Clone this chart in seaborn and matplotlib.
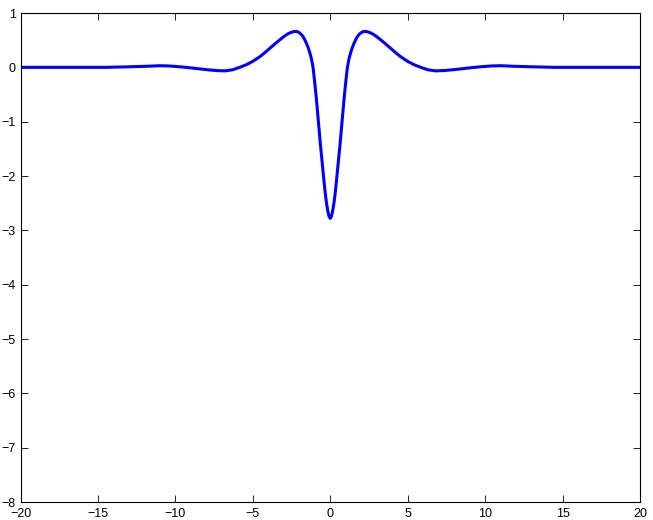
import matplotlib
matplotlib.use("Agg")

import pandas as pd
import matplotlib.pyplot as plt
import seaborn as sns

# points (curve is symmetric about x = 0)
x_right = [0.0, 0.08, 0.16, 0.24, 0.32, 0.40, 0.48, 0.56, 0.64, 0.72, 0.80,
           0.90, 1.00, 1.10, 1.20, 1.31, 1.42, 1.52, 1.63, 1.75, 1.90,
           2.05, 2.20, 2.40, 2.60, 2.80, 3.00, 3.35, 3.70, 4.10, 4.50,
           5.00, 5.40, 5.80, 6.30, 6.80, 7.30, 7.80, 8.40, 9.00, 9.70,
           10.40, 11.00, 11.80, 13.00, 14.50, 16.00, 18.00, 20.00]
y_right = [-2.78, -2.74, -2.64, -2.50, -2.32, -2.10, -1.87, -1.63, -1.40, -1.14, -0.88,
           -0.56, -0.28, -0.02, 0.14, 0.26, 0.36, 0.43, 0.50, 0.565, 0.615,
           0.648, 0.662, 0.655, 0.635, 0.605, 0.565, 0.485, 0.40, 0.30, 0.205,
           0.11, 0.05, 0.005, -0.045, -0.065, -0.06, -0.048, -0.03, -0.01, 0.01,
           0.025, 0.03, 0.02, 0.01, 0.0, 0.0, 0.0, 0.0]

x_vals = [-v for v in x_right[::-1]] + x_right[1:]
y_vals = y_right[::-1] + y_right[1:]

x_ticks = list(range(-20, 21, 5))
y_ticks = list(range(-8, 2))

df = pd.DataFrame({"x": x_vals, "y": y_vals})

sns.set_style("white")
plt.rcParams["font.family"] = ["Liberation Sans", "DejaVu Sans"]

fig = plt.figure(figsize=(6.53, 5.20), dpi=100)
ax = fig.add_axes([0.0314, 0.0346, 0.9486, 0.9404])

sns.lineplot(data=df, x="x", y="y", color="#0000ff", linewidth=2.2, ax=ax,
             sort=False, estimator=None)

ax.set_xlim(-20, 20)
ax.set_ylim(-8, 1)
ax.set_xticks(x_ticks)
ax.set_yticks(y_ticks)
ax.set_xlabel("")
ax.set_ylabel("")

for side in ["left", "right", "top", "bottom"]:
    ax.spines[side].set_visible(True)
    ax.spines[side].set_color("black")
    ax.spines[side].set_linewidth(0.8)

ax.tick_params(axis="both", which="both", direction="in", length=5, width=0.6,
               top=True, right=True, bottom=True, left=True,
               labelsize=9, colors="black")
ax.tick_params(axis="x", pad=4)
ax.tick_params(axis="y", pad=3.5)

fig.savefig("out.png", dpi=100)
plt.close()
